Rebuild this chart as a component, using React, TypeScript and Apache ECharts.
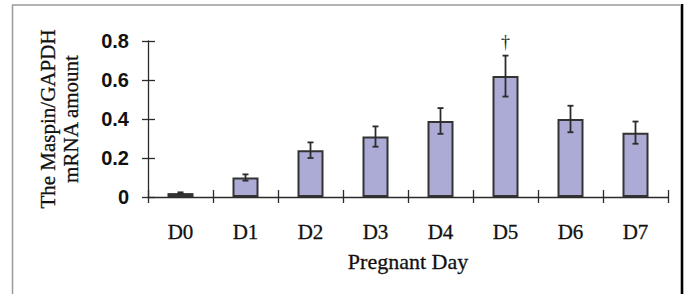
import React, { useEffect, useRef } from "react";
import * as echarts from "echarts";

const categories = ["D0", "D1", "D2", "D3", "D4", "D5", "D6", "D7"];
const values = [0.02, 0.10, 0.24, 0.31, 0.39, 0.62, 0.40, 0.33];
const errors = [0.004, 0.016, 0.04, 0.052, 0.066, 0.105, 0.068, 0.057];
const marks = ["", "", "", "", "", "\u2020", "", ""];
const yTicks = { min: 0, max: 0.8, interval: 0.2 };
const yNameLines = ["The Maspin/GAPDH", "mRNA amount"];
const xName = "Pregnant Day";

const SERIF = "'Liberation Serif', 'Times New Roman', serif";
const SANS = "'Liberation Sans', Arial, sans-serif";

export default function App() {
  const ref = useRef<HTMLDivElement>(null);
  useEffect(() => {
    if (!ref.current) return;
    const chart = echarts.init(ref.current, null, { renderer: "svg" });
    const errData = values.map((v, i) => [i, v, errors[i], marks[i]]);
    const axisColor = "#2b2b2b";
    chart.setOption({
      animation: false,
      backgroundColor: "#ffffff",
      grid: { left: 148, top: 41, right: 16, bottom: 97, containLabel: false },
      xAxis: [
        {
          type: "category",
          data: categories,
          position: "bottom",
          axisLine: { show: true, lineStyle: { color: axisColor, width: 1.3 } },
          axisTick: { show: true, length: 6, inside: false, lineStyle: { color: axisColor, width: 1.3 } },
          axisLabel: {
            fontFamily: SERIF,
            fontSize: 21,
            color: "#111",
            margin: 24,
            textBorderColor: "#111",
            textBorderWidth: 0.3,
          },
          name: xName,
          nameLocation: "middle",
          nameGap: 53,
          nameTextStyle: {
            fontFamily: SERIF,
            fontSize: 22,
            color: "#111",
            textBorderColor: "#111",
            textBorderWidth: 0.3,
          },
        },
        {
          type: "category",
          data: categories,
          position: "bottom",
          axisLine: { show: false },
          axisTick: { show: true, length: 7, inside: true, lineStyle: { color: axisColor, width: 1.3 } },
          axisLabel: { show: false },
        },
      ],
      yAxis: [
        {
          type: "value",
          min: yTicks.min,
          max: yTicks.max,
          interval: yTicks.interval,
          position: "left",
          splitLine: { show: false },
          axisLine: { show: true, lineStyle: { color: axisColor, width: 1.3 } },
          axisTick: { show: true, length: 6, inside: false, lineStyle: { color: axisColor, width: 1.3 } },
          axisLabel: {
            fontFamily: SANS,
            fontWeight: "bold",
            fontSize: 20,
            color: "#111",
            margin: 19,
            formatter: (v: number) => (v === 0 ? "0" : v.toFixed(1)),
          },
        },
        {
          type: "value",
          min: yTicks.min,
          max: yTicks.max,
          interval: yTicks.interval,
          position: "left",
          splitLine: { show: false },
          axisLine: { show: false },
          axisTick: { show: true, length: 7, inside: true, lineStyle: { color: axisColor, width: 1.3 } },
          axisLabel: { show: false },
        },
      ],
      series: [
        {
          type: "bar",
          data: values,
          barWidth: 26,
          xAxisIndex: 0,
          yAxisIndex: 0,
          itemStyle: { color: "#ababd6", borderColor: "#333333", borderWidth: 2 },
          z: 2,
        },
        {
          type: "custom",
          xAxisIndex: 0,
          yAxisIndex: 0,
          data: errData,
          encode: { x: 0, y: 1 },
          z: 3,
          renderItem: (params: any, api: any) => {
            const i = api.value(0);
            const v = api.value(1);
            const e = api.value(2);
            const mark = marks[params.dataIndex];
            const top = api.coord([i, v + e]);
            const bot = api.coord([i, v - e]);
            const x = top[0];
            const cap = 3;
            const style = { stroke: "#2b2b2b", lineWidth: 1.8 };
            const children: any[] = [
              { type: "line", shape: { x1: x, y1: top[1], x2: x, y2: bot[1] }, style },
              { type: "line", shape: { x1: x - cap, y1: top[1], x2: x + cap, y2: top[1] }, style },
              { type: "line", shape: { x1: x - cap, y1: bot[1], x2: x + cap, y2: bot[1] }, style },
            ];
            if (mark) {
              children.push({
                type: "text",
                style: {
                  text: mark,
                  x: x,
                  y: top[1] - 14,
                  fill: "#222222",
                  font: `18px ${SERIF}`,
                  align: "center",
                  verticalAlign: "middle",
                },
              });
            }
            return { type: "group", children };
          },
        },
      ],
      graphic: [
        {
          type: "text",
          x: 48,
          y: 119,
          rotation: Math.PI / 2,
          style: {
            text: yNameLines[0],
            font: `21px ${SERIF}`,
            fill: "#111",
            stroke: "#111",
            lineWidth: 0.3,
            align: "center",
            verticalAlign: "middle",
          },
        },
        {
          type: "text",
          x: 71,
          y: 119,
          rotation: Math.PI / 2,
          style: {
            text: yNameLines[1],
            font: `21px ${SERIF}`,
            fill: "#111",
            stroke: "#111",
            lineWidth: 0.3,
            align: "center",
            verticalAlign: "middle",
          },
        },
        {
          type: "line",
          shape: { x1: 12, y1: 5, x2: 680, y2: 5 },
          style: { stroke: "#9a9a9a", lineWidth: 1.5 },
        },
        {
          type: "line",
          shape: { x1: 12.5, y1: 5, x2: 12.5, y2: 294 },
          style: { stroke: "#9a9a9a", lineWidth: 1.5 },
        },
        {
          type: "line",
          shape: { x1: 682, y1: 4, x2: 682, y2: 294 },
          style: { stroke: "#000000", lineWidth: 2.6 },
        },
      ],
    });
    return () => chart.dispose();
  }, []);
  return (
    <div
      ref={ref}
      style={{ position: "fixed", left: 0, top: 0, width: 684, height: 294 }}
    />
  );
}
